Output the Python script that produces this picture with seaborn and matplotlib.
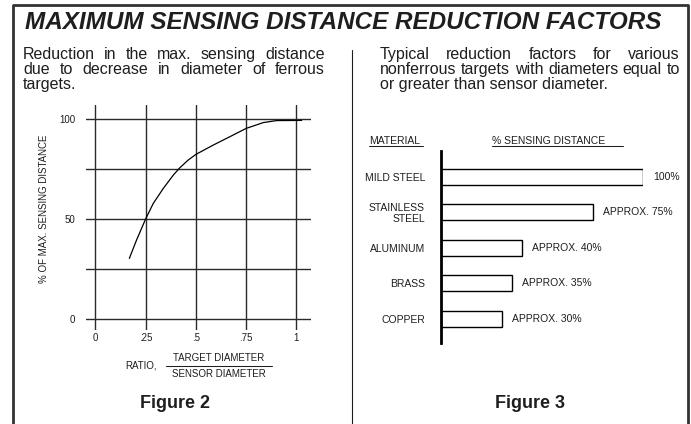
import matplotlib
matplotlib.use("Agg")
import matplotlib.pyplot as plt
from matplotlib.lines import Line2D
import seaborn as sns

# Figure 2 - curve
ratio = [0.169, 0.205, 0.25, 0.288, 0.338, 0.388, 0.421, 0.462, 0.5,
         0.587, 0.670, 0.75, 0.835, 0.90, 1.026]
pct_max = [30.3, 39.5, 50.0, 57.8, 65.3, 72.0, 75.7, 79.5, 82.3,
           87.0, 91.2, 95.3, 98.2, 99.2, 99.3]
x_ticks = [0, 0.25, 0.5, 0.75, 1]
x_labels = ["0", ".25", ".5", ".75", "1"]
y_ticks = [0, 25, 50, 75, 100]
y_labels = ["0", "", "50", "", "100"]

# Figure 3 - materials
materials = ["MILD STEEL", "STAINLESS\nSTEEL", "ALUMINUM", "BRASS", "COPPER"]
sensing_pct = [100, 75, 40, 35, 30]
bar_labels = ["100%", "APPROX. 75%", "APPROX. 40%", "APPROX. 35%", "APPROX. 30%"]

left_text = ["Reduction in the max. sensing distance",
             "due to decrease in diameter of ferrous",
             "targets."]
right_text = ["Typical reduction factors for various",
              "nonferrous targets with diameters equal to",
              "or greater than sensor diameter."]

W, H = 691, 424
INK = "#1e1e1e"

sns.set_style("white")
plt.rcParams["font.family"] = ["Liberation Sans", "DejaVu Sans"]


def fx(x):
    return x / W


def fy(y):
    return 1 - y / H


def rect(l, t, r, b):
    return [l / W, 1 - b / H, (r - l) / W, (b - t) / H]


def hline(fig, x0, x1, y, lw=0.75, color=INK):
    fig.add_artist(Line2D([fx(x0), fx(x1)], [fy(y), fy(y)], lw=lw, color=color,
                          transform=fig.transFigure))


def justified(fig, lines, x0, x1, tops, size):
    # place each word so that full lines run from x0 to x1 (last line left aligned)
    renderer = fig.canvas.get_renderer()
    for i, (line, yt) in enumerate(zip(lines, tops)):
        words = line.split()
        if i == len(lines) - 1 or len(words) == 1:
            fig.text(fx(x0), fy(yt), line, fontsize=size, color=INK, va="top")
            continue
        texts = [fig.text(0, fy(yt), w, fontsize=size, color=INK, va="top")
                 for w in words]
        widths = [t.get_window_extent(renderer).width for t in texts]
        gap = (x1 - x0 - sum(widths)) / (len(words) - 1)
        x = x0
        for t, w in zip(texts, widths):
            t.set_x(fx(x))
            x += w + gap


fig = plt.figure(figsize=(6.91, 4.24), dpi=100)

# outer frame and divider
fig.add_artist(Line2D([fx(12.5), fx(12.5), fx(688), fx(688)],
                      [fy(440), fy(4.5), fy(4.5), fy(440)],
                      lw=2.0, color="#333333", transform=fig.transFigure))
fig.add_artist(Line2D([fx(351.7), fx(351.7)], [fy(50), fy(440)],
                      lw=0.8, color=INK, transform=fig.transFigure))

fig.text(fx(25), fy(29), "MAXIMUM SENSING DISTANCE REDUCTION FACTORS",
         fontsize=17.5, fontweight="bold", fontstyle="italic", color=INK, va="baseline")

justified(fig, left_text, 23, 325, [47, 62, 77], 11.5)
justified(fig, right_text, 380, 680, [47, 62, 77], 11.5)

# ---- Figure 2 ----
ax1 = fig.add_axes(rect(85.7, 105, 310.7, 330))
sns.lineplot(x=ratio, y=pct_max, ax=ax1, color="black", lw=0.9)
ax1.set_xlim(-0.048, 1.071)
ax1.set_ylim(-5.5, 107)
ax1.set_xticks(x_ticks, x_labels)
ax1.set_yticks(y_ticks, y_labels)
ax1.grid(True, color="#2a2a2a", lw=1.0)
for s in ax1.spines.values():
    s.set_visible(False)
ax1.tick_params(axis="x", length=0, pad=2.5, labelsize=7, labelcolor=INK)
ax1.tick_params(axis="y", length=0, pad=7.7, labelsize=7, labelcolor=INK)

fig.text(fx(44), fy(209), "% OF MAX. SENSING DISTANCE", rotation=90,
         fontsize=7, color=INK, ha="center", va="center")
fig.text(fx(141.5), fy(366), "RATIO,", fontsize=7, color=INK, ha="center", va="center")
fig.text(fx(218.7), fy(358), "TARGET DIAMETER", fontsize=7, color=INK,
         ha="center", va="center")
fig.text(fx(218.7), fy(374), "SENSOR DIAMETER", fontsize=7, color=INK,
         ha="center", va="center")
hline(fig, 165.7, 271.7, 365.7)

fig.text(fx(175), fy(408.3), "Figure 2", fontsize=13, fontweight="bold",
         color=INK, ha="center", va="baseline")

# ---- Figure 3 ----
ax2 = fig.add_axes(rect(441, 150.7, 643, 343.3))
sns.barplot(x=sensing_pct, y=materials, orient="h", color="white", saturation=1,
            edgecolor="black", linewidth=1.0, width=0.45, ax=ax2)
ax2.set_xlim(0, 100)
ax2.set_ylim(4.698, -0.743)
ax2.set_xticks([])
ax2.set_xlabel("")
ax2.set_ylabel("")
for name, s in ax2.spines.items():
    s.set_visible(name == "left")
ax2.spines["left"].set_linewidth(2.0)
ax2.spines["left"].set_color("black")
ax2.tick_params(axis="y", length=0, pad=11.5, labelsize=7.5, labelcolor=INK)
for lbl in ax2.get_yticklabels():
    lbl.set_linespacing(1.05)
for i, (v, lab) in enumerate(zip(sensing_pct, bar_labels)):
    ax2.annotate(lab, xy=(v, i), xytext=(7.2, 0), textcoords="offset points",
                 fontsize=7.5, color=INK, va="center", annotation_clip=False)

fig.text(fx(369), fy(140.7), "MATERIAL", fontsize=7.5, color=INK, va="center")
hline(fig, 369, 423, 145.7)
fig.text(fx(491.7), fy(140.7), "% SENSING DISTANCE", fontsize=7.5, color=INK,
         va="center")
hline(fig, 491.7, 623, 145.7)

fig.text(fx(530), fy(408.3), "Figure 3", fontsize=13, fontweight="bold",
         color=INK, ha="center", va="baseline")

fig.savefig("out.png", dpi=100)
